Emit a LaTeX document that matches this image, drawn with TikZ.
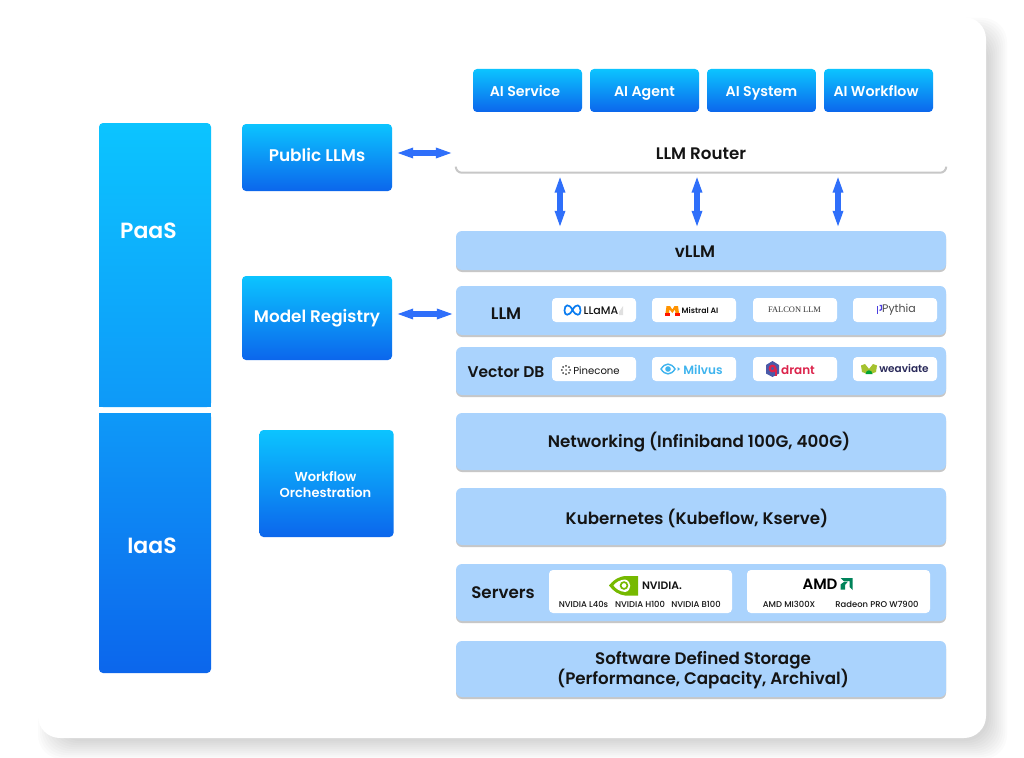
\documentclass[tikz,border=0pt]{standalone}
\usepackage{fontspec}
\setmainfont{Poppins}[BoldFont={Poppins SemiBold}]
\newfontfamily\popmedium{Poppins Medium}
\newfontfamily\falconfont{Liberation Serif}
\usepackage{tikz}
\usetikzlibrary{shadows,arrows.meta}
\definecolor{skytop}{HTML}{0CC4FF}
\definecolor{skymid}{HTML}{0E99F8}
\definecolor{skybot}{HTML}{0C66EC}
\definecolor{bandblue}{HTML}{AAD3FD}
\definecolor{arrowblue}{HTML}{2F6FFA}
\definecolor{inkblack}{HTML}{141414}
\definecolor{metablue}{HTML}{0A7CF0}
\definecolor{milvusblue}{HTML}{3FB4EE}
\definecolor{drantred}{HTML}{DC244C}
\definecolor{drantblue}{HTML}{4A5AA8}
\definecolor{weaveink}{HTML}{2A2A5A}
\definecolor{pythiablue}{HTML}{4B3FE0}
\definecolor{nvgreen}{HTML}{76B900}
\definecolor{amdgreen}{HTML}{00835A}
\tikzset{
  bluebox/.style={rectangle,rounded corners=4pt,inner sep=0pt,top color=skytop,bottom color=skybot,
    text=white,align=center,font=\bfseries\fontsize{14.2}{16}\selectfont},
  bandbox/.style={rectangle,rounded corners=6pt,inner sep=0pt,fill=bandblue,minimum width=490pt,
    text=inkblack,font=\bfseries\fontsize{16.7}{20}\selectfont,
    general shadow={fill=black!22,shadow yshift=-2pt}},
  routerbox/.style={rectangle,rounded corners=6pt,inner sep=0pt,fill=white,minimum width=490pt,
    text=inkblack,font=\bfseries\fontsize{16.7}{20}\selectfont},
  oneline/.style={text height=#1,text depth=0pt},
  bandlabel/.style={inner sep=0pt,align=center,text=inkblack,font=\bfseries\fontsize{16.7}{20}\selectfont},
  columnlabel/.style={inner sep=0pt,text=white,font=\bfseries\fontsize{22}{24}\selectfont},
  chipbox/.style={rectangle,rounded corners=4pt,inner sep=0pt,fill=white,minimum width=84pt,minimum height=24pt},
  chiptext/.style={inner sep=0pt,font=\fontsize{11}{13}\selectfont},
  modeltext/.style={inner sep=0pt,text=inkblack,font=\popmedium\fontsize{8.4}{10}\selectfont},
  biarrow/.style={{Triangle[length=17pt,width=9.5pt]}-{Triangle[length=17pt,width=9.5pt]},arrowblue,line width=5.5pt}
}

\begin{document}
\begin{tikzpicture}[x=1pt,y=-1pt]
\useasboundingbox (0,0) rectangle (1024,757);
\fill[white] (0,0) rectangle (1024,757);
% card with soft shadow
\foreach \s in {0,2,...,18}
  \fill[black,opacity=0.017,rounded corners=24pt] (56-\s,36-\s) rectangle (989+\s,741+\s);
\fill[white,rounded corners=22pt] (38,17) rectangle (986,738);

% left columns
\node[bluebox,bottom color=skymid,minimum width=112pt,minimum height=284pt] (paas) at (155,265) {};
\fill[skymid] (99,402) rectangle (211,407);
\node[bluebox,top color=skymid,minimum width=112pt,minimum height=260pt] (iaas) at (155,543) {};
\fill[skymid] (99,413) rectangle (211,418);
\node[columnlabel] (paaslabel) at (148.5,231) {PaaS};
\node[columnlabel] (iaaslabel) at (152,546) {IaaS};

% middle boxes
\node[bluebox,minimum width=150pt,minimum height=67pt,text height=11.8pt,text depth=4pt,font=\bfseries\fontsize{16.9}{18}\selectfont] (public) at (317,157.5) {Public LLMs};
\node[bluebox,minimum width=150pt,minimum height=84pt,text height=11.8pt,text depth=3pt,font=\bfseries\fontsize{16.8}{18}\selectfont] (registry) at (317,318) {Model Registry};
\node[bluebox,minimum width=134pt,minimum height=107pt] (workflow) at (326.5,483.5) {};
\node[inner sep=0pt,align=center,text=white,font=\bfseries\fontsize{13}{16}\selectfont] (workflowlabel) at (325.5,484) {Workflow\\Orchestration};

% top row
\node[bluebox,oneline=11.5pt,minimum width=109pt,minimum height=43pt] (service) at (527.5,90.5) {\hspace{-5pt}AI Service};
\node[bluebox,oneline=11.5pt,minimum width=109pt,minimum height=43pt] (agent) at (644.5,90.5) {AI Agent};
\node[bluebox,oneline=11.5pt,minimum width=109pt,minimum height=43pt] (system) at (761.5,90.5) {AI System};
\node[bluebox,oneline=11.5pt,minimum width=109pt,minimum height=43pt] (flow) at (878.5,90.5) {\hspace{-5pt}AI Workflow};

% bands
\node[routerbox,oneline=13.5pt,minimum height=39pt] (router) at (701,153) {LLM Router};
\draw[black!22,line width=2pt,rounded corners=6pt,yshift=-1pt] (router.west |- 0,167) -- (router.south west) -- (router.south east) -- (router.east |- 0,167);
\node[bandbox,minimum height=39pt] (vllm) at (701,250.5) {};
\node[bandbox,minimum height=49pt] (llm) at (701,310.5) {};
\node[bandbox,minimum height=48pt] (vector) at (701,371) {};
\node[bandbox,minimum height=57pt] (network) at (701,441.5) {};
\node[bandbox,minimum height=57pt] (kube) at (701,516.5) {};
\node[bandbox,minimum height=57pt] (servers) at (701,592.5) {};
\node[bandbox,minimum height=56pt] (storage) at (701,669) {};

\node[bandlabel] (vllmlabel) at (695,252) {vLLM};
\node[bandlabel] (llmlabel) at (506,313.5) {LLM};
\node[bandlabel,font=\bfseries\fontsize{15.5}{20}\selectfont] (vectorlabel) at (506,372.5) {Vector DB};
\node[bandlabel] (networklabel) at (699,442.5) {Networking (Infiniband 100G, 400G)};
\node[bandlabel] (kubelabel) at (697,518.5) {Kubernetes (Kubeflow, Kserve)};
\node[bandlabel] (serverslabel) at (503,592.5) {Servers};
\node[bandlabel] (storagelabel) at (703,670) {Software Defined Storage\\(Performance, Capacity, Archival)};

% chips
\node[chipbox] (llama) at (594,310) {};
\node[chipbox] (mistral) at (694,310) {};
\node[chipbox] (falcon) at (795,310) {};
\node[chipbox] (pythia) at (895,310) {};
\node[chipbox] (pinecone) at (594,369) {};
\node[chipbox] (milvus) at (694,369) {};
\node[chipbox] (qdrant) at (795,369) {};
\node[chipbox] (weaviate) at (895,369) {};
\node[chipbox,minimum width=183pt,minimum height=43pt] (nvidia) at (640.5,591.5) {};
\node[chipbox,minimum width=183pt,minimum height=43pt] (amd) at (838.5,591.5) {};

% logos
\draw[metablue,line width=1.7pt] (572.5,310) .. controls (569,303) and (564.5,304.5) .. (564.5,310.5) .. controls (564.5,316) and (569,316.5) .. (572.5,310) .. controls (576,303) and (580.5,304.5) .. (580.5,310.5) .. controls (580.5,316) and (576,316.5) .. (572.5,310);
\node[chiptext,font=\popmedium\fontsize{11}{13}\selectfont,text=inkblack] (llamatext) at (601,310.5) {LLaMA};
\fill[black!12] (619,312) -- (621,309) -- (623,306) -- (623,315) -- (619,315) -- cycle;
\fill[orange!85!yellow] (665.5,313) -- (666.5,306) -- (670,306) -- (672.3,309.5) -- (674.5,306) -- (678,306) -- (679,313) -- (675.5,313) -- (675,309.5) -- (672.3,313) -- (669.5,309.5) -- (669,313) -- cycle;
\fill[red!85!orange] (665,312.5) rectangle (670,316);
\fill[red!85!orange] (674.5,312.5) rectangle (679.5,316);
\node[chiptext,font=\bfseries\fontsize{7.8}{10}\selectfont,text=inkblack] (mistraltext) at (700,310.5) {Mistral AI};
\node[chiptext,text=black!80,font=\falconfont\fontsize{8.4}{10}\selectfont] (falcontext) at (794.5,310) {FALCON LLM};
\fill[pythiablue] (876.5,305.5) rectangle (878,314);
\draw[pythiablue,line width=1.2pt] (879.5,305.5) -- (881.5,305.5) -- (881.5,309.5) -- (879.5,310.5);
\node[chiptext,text=black!70] (pythiatext) at (899,310) {Pythia};

\foreach \a in {0,45,...,315}
  \fill[black!75] (566,370) ++(\a:4.2pt) circle (1pt);
\fill[black!55] (566,370) circle (1pt);
\node[chiptext,font=\fontsize{10.1}{12}\selectfont,text=inkblack] (pineconetext) at (596.5,370.5) {Pinecone};
\draw[milvusblue,line width=1.4pt] (661,369) .. controls (665,362.5) and (671,362.5) .. (675,369) .. controls (671,375.5) and (665,375.5) .. (661,369) -- cycle;
\fill[milvusblue] (668,369) circle (2.8pt);
\fill[milvusblue] (677.5,367) -- (680,369) -- (677.5,371) -- cycle;
\node[chiptext,font=\bfseries\fontsize{12}{14}\selectfont,text=milvusblue] (milvustext) at (703,369.5) {Milvus};
\fill[drantblue] (772.5,361) -- (779,365) -- (779,373.5) -- (772.5,377) -- (766,373.5) -- (766,365) -- cycle;
\draw[drantred,line width=2.2pt] (772.5,368.5) circle (2.8pt);
\draw[drantred,line width=2pt] (775.8,369) -- (775.8,376);
\node[chiptext,font=\bfseries\fontsize{12}{14}\selectfont,text=drantred] (qdranttext) at (798,370) {drant};
\fill[yellow!70!green!85!black] (861,365.5) -- (865,364) -- (869,369) -- (873,364) -- (877,365.5) -- (876,372) -- (872,373.5) -- (869,370.5) -- (866,373.5) -- (862,372) -- cycle;
\fill[green!55!black!80!cyan] (865.5,374) .. controls (866,369) and (872,369) .. (872.5,374) -- cycle;
\node[chiptext,font=\bfseries\fontsize{10.5}{12}\selectfont,text=weaveink] (weaviatetext) at (904,368.5) {weaviate};

\fill[nvgreen] (609,585.5) .. controls (615,578) and (621,576.5) .. (625,576) -- (638,576) -- (638,595.5) -- (625,595.5) .. controls (619,595) and (613,591) .. (609,585.5) -- cycle;
\fill[white] (625,579.5) .. controls (620,580) and (616,582) .. (613.5,585.5) .. controls (616,589) and (620,591.5) .. (625,592) .. controls (632,591) and (632,581) .. (625,579.5) -- cycle;
\draw[nvgreen,line width=1.7pt] (624,585.5) circle (3.4pt);
\node[chiptext,font=\bfseries\fontsize{10.8}{12}\selectfont,text=inkblack] (nvidiatext) at (662,585.5) {NVIDIA.};
\node[modeltext] (l40s) at (583.5,604.5) {NVIDIA L40s};
\node[modeltext] (h100) at (640,604.5) {NVIDIA H100};
\node[modeltext] (b100) at (696,604.5) {NVIDIA B100};
\node[chiptext,font=\bfseries\fontsize{15}{16}\selectfont,text=black] (amdtext) at (820,584) {AMD};
\fill[amdgreen] (840.5,578) -- (852.5,578) -- (852.5,590) -- (849.5,587) -- (849.5,581) -- (843.5,581) -- cycle;
\fill[amdgreen] (840.5,584.5) -- (844.5,581.5) -- (848,581.5) -- (845,585) -- (845,589.5) -- (840.5,589.5) -- cycle;
\node[modeltext] (mi300x) at (789,604.5) {AMD MI300X};
\node[modeltext] (w7900) at (877,604.5) {Radeon PRO W7900};

% arrows
\draw[biarrow,shorten <=4pt,shorten >=3pt] (public.east |- router.west) -- (router.west);
\draw[biarrow,shorten <=4pt,shorten >=2pt] (registry.east |- 0,314) -- (llm.west |- 0,314);
\foreach \x in {560,697,838}
  \draw[biarrow,shorten <=3pt,shorten >=3pt] (router.south -| \x,0) -- (vllm.north -| \x,0);
\end{tikzpicture}
\end{document}
